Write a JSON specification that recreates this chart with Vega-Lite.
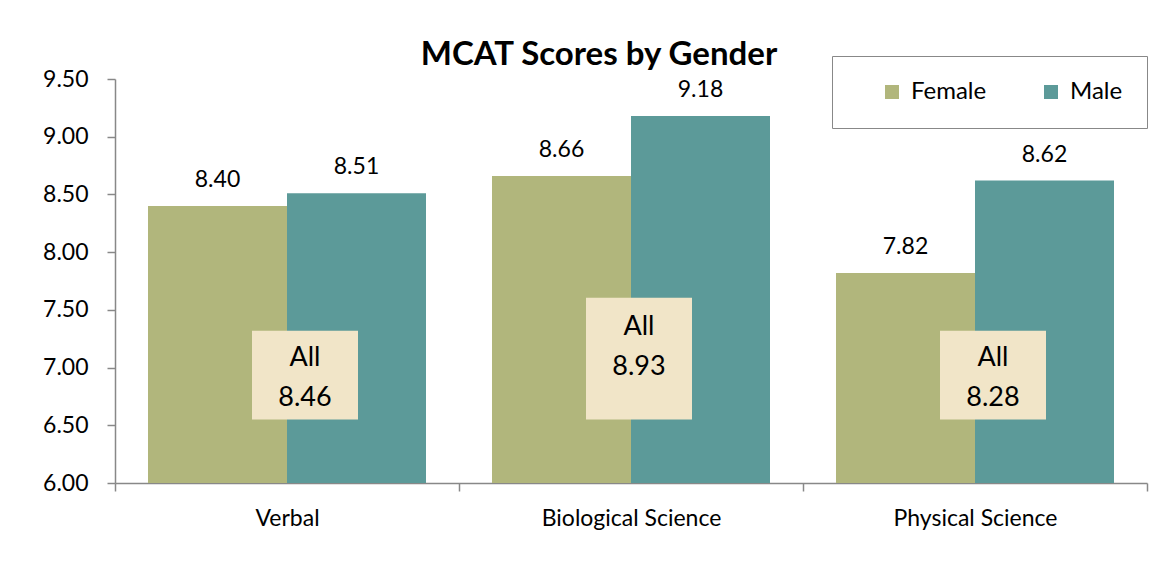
{
  "$schema": "https://vega.github.io/schema/vega-lite/v6.json",
  "width": 1032,
  "height": 404,
  "autosize": {"type": "none"},
  "padding": {"left": 115, "top": 79, "right": 26, "bottom": 80},
  "background": "white",
  "title": {
    "text": "MCAT Scores by Gender",
    "font": "Lato",
    "fontSize": 33,
    "fontWeight": "bold",
    "color": "#000000",
    "baseline": "alphabetic",
    "offset": 12,
    "dx": -32,
    "dy": 54
  },
  "config": {
    "font": "Lato",
    "view": {"stroke": null},
    "axis": {
      "domainColor": "#888888",
      "domainWidth": 1.5,
      "tickColor": "#888888",
      "tickWidth": 1.5,
      "tickSize": 8,
      "grid": false,
      "labelFont": "Lato",
      "labelFontSize": 23,
      "labelColor": "#000000",
      "title": null
    }
  },
  "datasets": {
    "scores": [
      {"Category": "Verbal", "Gender": "Female", "Score": 8.40},
      {"Category": "Verbal", "Gender": "Male", "Score": 8.51},
      {"Category": "Biological Science", "Gender": "Female", "Score": 8.66},
      {"Category": "Biological Science", "Gender": "Male", "Score": 9.18},
      {"Category": "Physical Science", "Gender": "Female", "Score": 7.82},
      {"Category": "Physical Science", "Gender": "Male", "Score": 8.62}
    ],
    "all": [
      {"Category": "Verbal", "All": 8.46},
      {"Category": "Biological Science", "All": 8.93},
      {"Category": "Physical Science", "All": 8.28}
    ]
  },
  "encoding": {
    "x": {
      "field": "Category",
      "type": "nominal",
      "sort": ["Verbal", "Biological Science", "Physical Science"],
      "scale": {"paddingInner": 0, "paddingOuter": 0},
      "axis": {"labelAngle": 0, "tickBand": "extent", "labelPadding": 16}
    }
  },
  "layer": [
    {
      "data": {"name": "scores"},
      "mark": {"type": "bar"},
      "encoding": {
        "xOffset": {"field": "Gender", "type": "nominal", "scale": {"paddingInner": 0, "paddingOuter": 0.2374}},
        "y": {
          "field": "Score",
          "type": "quantitative",
          "scale": {"domain": [6, 9.5], "zero": false, "nice": false},
          "axis": {"values": [6, 6.5, 7, 7.5, 8, 8.5, 9, 9.5], "format": ".2f", "labelPadding": 19}
        },
        "y2": {"datum": 6},
        "color": {
          "field": "Gender",
          "type": "nominal",
          "scale": {"domain": ["Female", "Male"], "range": ["#B1B67C", "#5C9A99"]},
          "legend": {
            "title": null,
            "orient": "none",
            "direction": "horizontal",
            "legendX": 717,
            "legendY": -23,
            "padding": 24,
            "symbolOffset": 24,
            "symbolType": "square",
            "symbolSize": 196,
            "symbolStrokeWidth": 0,
            "labelFont": "Lato",
            "labelFontSize": 24,
            "labelColor": "#000000",
            "labelOffset": 7,
            "columnPadding": 28,
            "strokeColor": "#888888",
            "fillColor": "white"
          }
        }
      }
    },
    {
      "data": {"name": "scores"},
      "mark": {"type": "text", "baseline": "alphabetic", "dy": -19, "fontSize": 23, "font": "Lato", "color": "#000000"},
      "encoding": {
        "xOffset": {"field": "Gender", "type": "nominal", "scale": {"paddingInner": 0, "paddingOuter": 0.2374}},
        "y": {"field": "Score", "type": "quantitative"},
        "text": {"field": "Score", "type": "quantitative", "format": ".2f"}
      }
    },
    {
      "data": {"name": "all"},
      "mark": {
        "type": "bar",
        "color": "#F1E5C8",
        "width": 106,
        "xOffset": {"expr": "datum.Category === 'Biological Science' ? 8 : 18"},
        "yOffset": {"expr": "datum.Category === 'Biological Science' ? -33 : 0"}
      },
      "encoding": {
        "y": {"datum": 7.32},
        "y2": {"datum": 6.55}
      }
    },
    {
      "data": {"name": "all"},
      "transform": [{"calculate": "['All', format(datum.All, '.2f')]", "as": "label"}],
      "mark": {
        "type": "text",
        "baseline": "middle",
        "align": "center",
        "fontSize": 27,
        "font": "Lato",
        "lineHeight": 40,
        "color": "#000000",
        "xOffset": {"expr": "datum.Category === 'Biological Science' ? 8 : 18"},
        "yOffset": {"expr": "datum.Category === 'Biological Science' ? -31 : 0"}
      },
      "encoding": {
        "y": {"datum": 7.08},
        "text": {"field": "label"}
      }
    }
  ]
}
